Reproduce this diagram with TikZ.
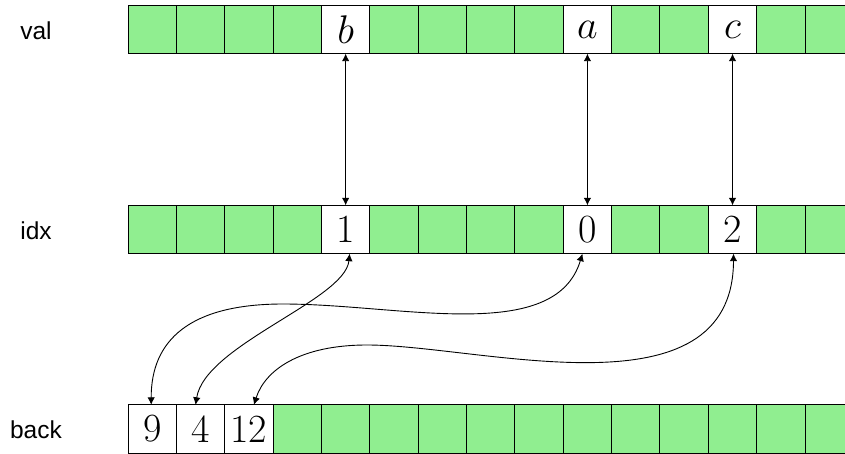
\RequirePackage{fix-cm}
\documentclass[tikz,border=0pt]{standalone}
\usepackage{fontspec}
\newfontfamily\labelfont{Liberation Sans}
\usetikzlibrary{arrows.meta}
\definecolor{cellgreen}{HTML}{90EE90}
\begin{document}
\begin{tikzpicture}[x=1pt,y=-1pt,
  cell/.style={draw, line width=1pt, minimum size=48.4pt, inner sep=0pt, outer sep=0pt, fill=cellgreen},
  wcell/.style={cell, fill=white, font=\fontsize{40}{48}\selectfont},
  rowlabel/.style={anchor=base, font=\labelfont\fontsize{24.5}{29}\selectfont},
  link/.style={line width=0.9pt, {Latex[length=7.5pt,width=7.5pt]}-{Latex[length=7.5pt,width=7.5pt]}}]
\useasboundingbox (0,0) rectangle (845,454);
\clip (0,0) rectangle (845,454);
% labels
\node[rowlabel] (lv) at (36,40) {val};
\node[rowlabel] (li) at (36,240) {idx};
\node[rowlabel] (lb) at (36,438) {back};
% val row
\foreach \i in {0,1,2,3,5,6,7,8,10,11,13,14}
  \node[cell] (v\i) at ({152.2+48.36*\i},29.5) {};
\node[wcell] (v4) at ({152.2+48.36*4},29.5) {$b$};
\node[wcell] (v9) at ({152.2+48.36*9},29.5) {$a$};
\node[wcell] (v12) at ({152.2+48.36*12},29.5) {$c$};
% idx row
\foreach \i in {0,1,2,3,5,6,7,8,10,11,13,14}
  \node[cell] (i\i) at ({152.2+48.36*\i},229.5) {};
\node[wcell] (i4) at ({152.2+48.36*4},229.5) {1};
\node[wcell] (i9) at ({152.2+48.36*9},229.5) {0};
\node[wcell] (i12) at ({152.2+48.36*12},229.5) {2};
% back row
\foreach \i in {3,...,14}
  \node[cell] (b\i) at ({152.2+48.36*\i},429) {};
\node[wcell] (b0) at ({152.2},429) {9};
\node[wcell] (b1) at ({152.2+48.36},429) {4};
\node[wcell] (b2) at ({152.2+48.36*2},429) {12};
% vertical links
\draw[link] (v4.south) -- (i4.north);
\draw[link] (v9.south) -- (i9.north);
\draw[link] (v12.south) -- (i12.north);
% curved links
\draw[link] ([xshift=-1pt]b0.north) .. controls (151,340) and (190,304) .. (283,304)
  .. controls (400,304) and (555,345) .. ([xshift=-5pt]i9.south);
\draw[link] ([xshift=-5pt]b1.north) .. controls (205,345) and (345,300) .. ([xshift=4pt]i4.south);
\draw[link] ([xshift=5pt]b2.north) .. controls (265,370) and (300,345) .. (367,345)
  .. controls (480,345) and (733,420) .. ([xshift=1pt]i12.south);
\end{tikzpicture}
\end{document}
